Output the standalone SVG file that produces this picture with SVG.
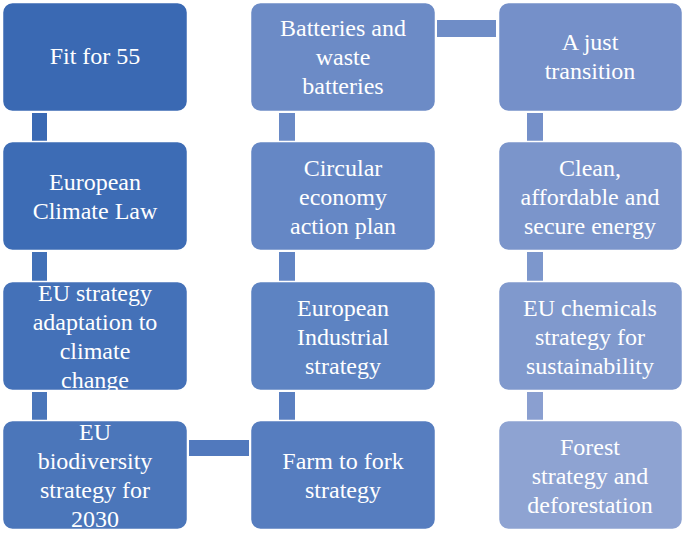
<svg xmlns="http://www.w3.org/2000/svg" width="685" height="536" viewBox="0 0 685 536">
<style>
.b{stroke:#fff;stroke-width:1.5}
text{font-family:"Liberation Serif","Times New Roman",serif;font-size:24px;fill:#fff;text-anchor:middle}
</style>
<rect width="685" height="536" fill="#fff"/>
<g id="connectors">
<rect x="32" y="113" width="15" height="28" fill="#3a69b3"/>
<rect x="32" y="252" width="15" height="29" fill="#4170b7"/>
<rect x="32" y="392" width="15" height="28" fill="#4a76ba"/>
<rect x="189" y="440" width="60" height="16" fill="#5179bd"/>
<rect x="279" y="113" width="16" height="28" fill="#6a8ac6"/>
<rect x="279" y="252" width="16" height="29" fill="#6285c4"/>
<rect x="279" y="392" width="16" height="28" fill="#5b80c1"/>
<rect x="437" y="20" width="59" height="17" fill="#6f8dc7"/>
<rect x="527" y="113" width="16" height="28" fill="#7590c9"/>
<rect x="527" y="252" width="16" height="29" fill="#7d97cc"/>
<rect x="527" y="392" width="16" height="28" fill="#8a9fd0"/>
</g>
<g id="n1"><rect class="b" x="2.5" y="2.5" width="185" height="109" rx="10" fill="#3a69b3"/><text x="95" y="64">Fit for 55</text></g>
<g id="n2"><rect class="b" x="2.5" y="141.5" width="185" height="109" rx="10" fill="#3d6cb5"/><text x="95" y="190">European</text><text x="95" y="219">Climate Law</text></g>
<g id="n3"><rect class="b" x="2.5" y="281.5" width="185" height="109" rx="10" fill="#4471b8"/><text x="95" y="301">EU strategy</text><text x="95" y="330">adaptation to</text><text x="95" y="359">climate</text><text x="95" y="388">change</text></g>
<g id="n4"><rect class="b" x="2.5" y="420.5" width="185" height="109" rx="10" fill="#4b76ba"/><text x="95" y="440">EU</text><text x="95" y="469">biodiversity</text><text x="95" y="498">strategy for</text><text x="95" y="527">2030</text></g>
<g id="n5"><rect class="b" x="250.5" y="420.5" width="185" height="109" rx="10" fill="#567dbf"/><text x="343" y="469">Farm to fork</text><text x="343" y="498">strategy</text></g>
<g id="n6"><rect class="b" x="250.5" y="281.5" width="185" height="109" rx="10" fill="#5d83c2"/><text x="343" y="316">European</text><text x="343" y="345">Industrial</text><text x="343" y="374">strategy</text></g>
<g id="n7"><rect class="b" x="250.5" y="141.5" width="185" height="109" rx="10" fill="#6587c5"/><text x="343" y="176">Circular</text><text x="343" y="205">economy</text><text x="343" y="234">action plan</text></g>
<g id="n8"><rect class="b" x="250.5" y="2.5" width="185" height="109" rx="10" fill="#6c8bc6"/><text x="343" y="36">Batteries and</text><text x="343" y="65">waste</text><text x="343" y="94">batteries</text></g>
<g id="n9"><rect class="b" x="498.5" y="2.5" width="184" height="109" rx="10" fill="#7590c9"/><text x="590" y="50">A just</text><text x="590" y="79">transition</text></g>
<g id="n10"><rect class="b" x="498.5" y="141.5" width="184" height="109" rx="10" fill="#7b95cb"/><text x="590" y="176">Clean,</text><text x="590" y="205">affordable and</text><text x="590" y="234">secure energy</text></g>
<g id="n11"><rect class="b" x="498.5" y="281.5" width="184" height="109" rx="10" fill="#8099cd"/><text x="590" y="316">EU chemicals</text><text x="590" y="345">strategy for</text><text x="590" y="374">sustainability</text></g>
<g id="n12"><rect class="b" x="498.5" y="420.5" width="184" height="109" rx="10" fill="#8ea3d2"/><text x="590" y="455">Forest</text><text x="590" y="484">strategy and</text><text x="590" y="513">deforestation</text></g>
</svg>
